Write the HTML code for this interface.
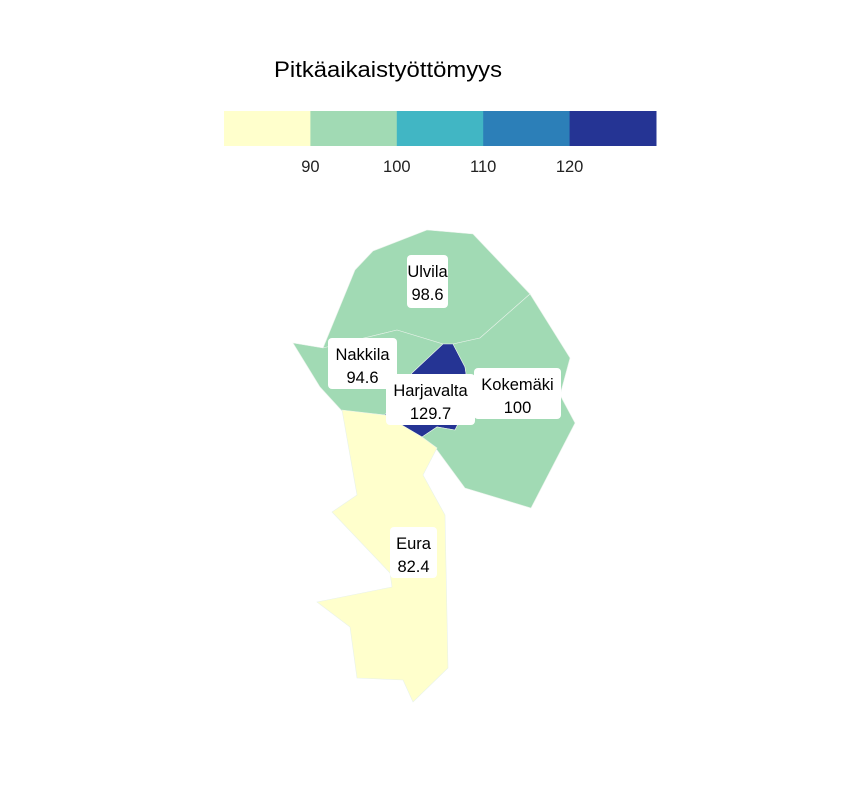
<!DOCTYPE html>
<html><head><meta charset="utf-8"><style>
html,body{margin:0;padding:0;background:#fff;}
svg{display:block;font-family:"Liberation Sans",sans-serif;}
</style></head><body>
<svg id="chart" width="864" height="792">
<text x="274" y="77" font-size="22" textLength="228" lengthAdjust="spacingAndGlyphs" fill="#000">Pitkäaikaistyöttömyys</text>
<g id="legend"></g>
<g id="regions"></g>
<g id="labels"></g>
</svg>
<script>
const regionNames = ["Ulvila","Nakkila","Harjavalta","Kokemäki","Eura"];
const regionValues = [98.6, 94.6, 129.7, 100, 82.4];
const breaks = [90, 100, 110, 120];
const breakLabels = ["90","100","110","120"];
const palette = ["#ffffcc","#a1dab4","#41b6c4","#2c7fb8","#253494"];

// map geometry (not data)
const shapes = {
 "Ulvila":[[355,270],[373,251],[427,230],[473,234],[530,294],[480,338],[453,344],[443,344],[397,330],[323,348]],
 "Nakkila":[[293,343],[323,348],[397,330],[443,344],[412,373],[385,415],[342,411],[320,387]],
 "Harjavalta":[[443,344],[453,344],[465,367],[470,400],[455,430],[437,427],[422,437],[405,427],[385,415],[412,373]],
 "Kokemäki":[[453,344],[480,338],[530,294],[570,358],[560,395],[575,423],[531,508],[465,488],[437,450],[422,437],[437,427],[455,430],[470,400],[465,367]],
 "Eura":[[342,410],[385,415],[405,427],[422,437],[437,448],[423,475],[445,515],[448,668],[413,702],[403,680],[357,678],[350,627],[317,602],[392,587],[390,573],[332,512],[357,495]]
};
const labelBoxes = {
 "Ulvila":[407,255,41,53],"Nakkila":[328,338,69,51],"Harjavalta":[386,374,89,51],
 "Kokemäki":[474,368,87,51],"Eura":[390,527,47,51]
};
const NS="http://www.w3.org/2000/svg";
function colorFor(v){let i=0;while(i<breaks.length && v>breaks[i])i++;return palette[i];}
const legX0=224, legX1=656, legY=111, legH=35;
const segW=(legX1-legX0)/palette.length;
const leg=document.getElementById('legend');
palette.forEach((c,i)=>{
 const r=document.createElementNS(NS,'rect');
 
 
 r.setAttribute('x',legX0+i*segW);r.setAttribute('y',legY);
 r.setAttribute('width',segW+0.5);r.setAttribute('height',legH);r.setAttribute('fill',c);
 leg.appendChild(r);
});
breakLabels.forEach((t,i)=>{
 const tx=document.createElementNS(NS,'text');
 
 
 tx.setAttribute('x',legX0+(i+1)*segW);tx.setAttribute('y',172);
 tx.setAttribute('text-anchor','middle');tx.setAttribute('font-size','16.5');tx.setAttribute('fill','#222');
 tx.textContent=t;leg.appendChild(tx);
});
const rg=document.getElementById('regions'), lg=document.getElementById('labels');
regionNames.forEach((n,i)=>{
 const p=document.createElementNS(NS,'polygon');
 
 
 p.setAttribute('points',shapes[n].map(q=>q.join(',')).join(' '));
 p.setAttribute('fill',colorFor(regionValues[i]));
 p.setAttribute('stroke','#e8f2ea');p.setAttribute('stroke-width','0.6');
 rg.appendChild(p);
});
regionNames.forEach((n,i)=>{
 const b=labelBoxes[n];
 const r=document.createElementNS(NS,'rect');
 
 
 r.setAttribute('x',b[0]);r.setAttribute('y',b[1]);r.setAttribute('width',b[2]);r.setAttribute('height',b[3]);
 r.setAttribute('rx',4);r.setAttribute('fill','#fff');
 lg.appendChild(r);
 const cx=b[0]+b[2]/2;
 const t1=document.createElementNS(NS,'text');
 
 
 t1.setAttribute('x',cx);t1.setAttribute('y',b[1]+22);t1.setAttribute('text-anchor','middle');
 t1.setAttribute('font-size','16.5');t1.textContent=n;lg.appendChild(t1);
 const t2=document.createElementNS(NS,'text');
 
 
 t2.setAttribute('x',cx);t2.setAttribute('y',b[1]+45);t2.setAttribute('text-anchor','middle');
 t2.setAttribute('font-size','16.5');t2.textContent=String(regionValues[i]);lg.appendChild(t2);
});
</script>
</body></html>
